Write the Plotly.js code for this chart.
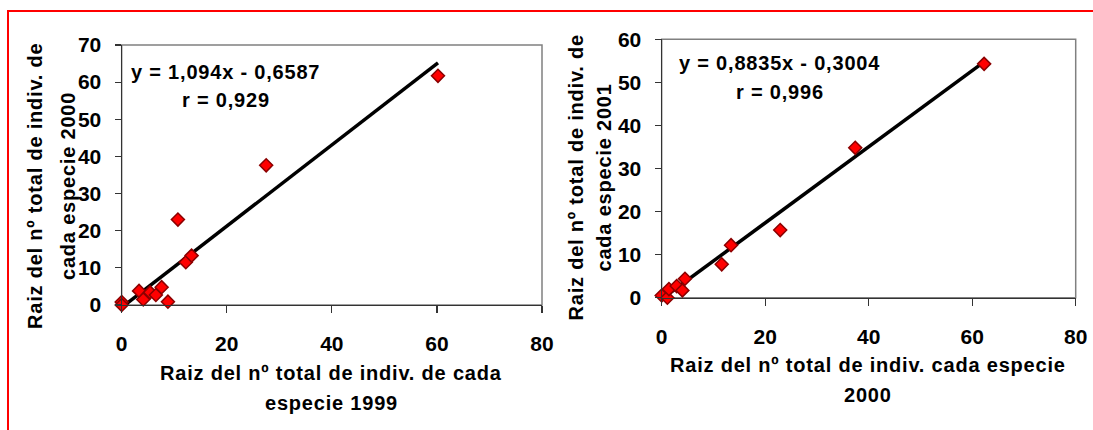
<!DOCTYPE html>
<html>
<head>
<meta charset="utf-8">
<script src="https://cdn.plot.ly/plotly-3.0.1.min.js"></script>
<style>
  html, body { margin: 0; padding: 0; background: #fff; }
  #chart { width: 1093px; height: 430px; }
  .annotation-text { letter-spacing: 0.8px; }
</style>
</head>
<body>
<div id="chart"></div>
<script>
// ---- Data ----
// Left chart: sqrt of total individuals per species, 1999 vs 2000
const x1999 = [0, 0, 3.3, 4.1, 5.4, 6.5, 7.6, 8.8, 10.7, 12.2, 13.3, 27.5, 60.2];
const y2000 = [0.8, 0, 3.8, 1.5, 3.4, 2.7, 4.8, 0.9, 23.0, 11.5, 13.3, 37.6, 61.7];
const leftSlope = 1.094, leftIntercept = -0.6587;
const leftEqText = "y = 1,094x - 0,6587";
const leftRText = "r = 0,929";

// Right chart: 2000 vs 2001
const x2000 = [0, 1.1, 1.4, 2.9, 4.0, 4.5, 11.6, 13.4, 22.9, 37.4, 62.3];
const y2001 = [0.5, 0, 2.0, 2.7, 1.7, 4.4, 7.75, 12.2, 15.7, 34.8, 54.3];
const rightSlope = 0.8835, rightIntercept = -0.3004;
const rightEqText = "y = 0,8835x - 0,3004";
const rightRText = "r = 0,996";

// Axis ticks
const xTicks = [0, 20, 40, 60, 80];
const yTicksLeft = [0, 10, 20, 30, 40, 50, 60, 70];
const yTicksRight = [0, 10, 20, 30, 40, 50, 60];

// Titles
const leftXTitle = ["Raiz del nº total de indiv. de cada", "especie 1999"];
const leftYTitle = ["Raiz del nº total de indiv. de", "cada especie 2000"];
const rightXTitle = ["Raiz del nº total de indiv. cada especie", "2000"];
const rightYTitle = ["Raiz del nº total de indiv. de", "cada especie 2001"];

// ---- Layout helpers ----
const W = 1093, H = 430;
const px = v => v / W;
const py = v => 1 - v / H;
const FONT = {family: "Liberation Sans, Arial, sans-serif", size: 20, color: "#000", weight: "bold"};
const TICKFONT = {family: "Liberation Sans, Arial, sans-serif", size: 21, color: "#000", weight: "bold"};

function trend(xs, m, b) {
  const lo = Math.min(...xs), hi = Math.max(...xs);
  return {x: [lo, hi], y: [m * lo + b, m * hi + b]};
}
const tl = trend(x1999, leftSlope, leftIntercept);
const tr = trend(x2000, rightSlope, rightIntercept);

const markerStyle = {symbol: "diamond", size: 10, color: "#FF0000", line: {color: "#8B0000", width: 1.5}};

const data = [
  {x: tl.x, y: tl.y, xaxis: "x", yaxis: "y", mode: "lines", line: {color: "#000", width: 3.5}, hoverinfo: "skip", cliponaxis: false},
  {x: x1999, y: y2000, xaxis: "x", yaxis: "y", mode: "markers", marker: markerStyle, cliponaxis: false},
  {x: tr.x, y: tr.y, xaxis: "x2", yaxis: "y2", mode: "lines", line: {color: "#000", width: 3.5}, hoverinfo: "skip", cliponaxis: false},
  {x: x2000, y: y2001, xaxis: "x2", yaxis: "y2", mode: "markers", marker: markerStyle, cliponaxis: false}
];

function xAxis(domain, anchor) {
  return {
    domain: domain, anchor: anchor, range: [0, 80], tickvals: xTicks, ticktext: xTicks.map(String),
    showgrid: false, zeroline: false, showline: true, linecolor: "#333", linewidth: 1.2,
    ticks: "outside", ticklen: 7, tickcolor: "#333", tickwidth: 1.2,
    tickfont: TICKFONT, ticklabelstandoff: 13, fixedrange: true
  };
}
function yAxis(domain, anchor, range, ticks) {
  return {
    domain: domain, anchor: anchor, range: range, tickvals: ticks, ticktext: ticks.map(String),
    showgrid: false, zeroline: false, showline: true, linecolor: "#333", linewidth: 1.2,
    ticks: "outside", ticklen: 6, tickcolor: "#333", tickwidth: 1.2,
    tickfont: TICKFONT, ticklabelstandoff: 9, fixedrange: true
  };
}

function ann(text, x, y, angle) {
  return {text: text, x: px(x), y: py(y), xref: "paper", yref: "paper", showarrow: false,
          xanchor: "center", yanchor: "middle", textangle: angle || 0, font: FONT};
}

const layout = {
  width: W, height: H, margin: {l: 0, r: 0, t: 0, b: 0},
  paper_bgcolor: "#fff", plot_bgcolor: "#fff", showlegend: false, hovermode: false,
  xaxis: xAxis([px(121.7), px(542)], "y"),
  yaxis: yAxis([py(305), py(45)], "x", [0, 70], yTicksLeft),
  xaxis2: xAxis([px(661.7), px(1075.7)], "y2"),
  yaxis2: yAxis([py(297.7), py(39.3)], "x2", [0, 60], yTicksRight),
  shapes: [
    {type: "rect", xref: "x domain", yref: "y domain", x0: 0, x1: 1, y0: 0, y1: 1, line: {color: "#808080", width: 1.5}, layer: "below"},
    {type: "rect", xref: "x2 domain", yref: "y2 domain", x0: 0, x1: 1, y0: 0, y1: 1, line: {color: "#808080", width: 1.5}, layer: "below"},
    {type: "rect", xref: "paper", yref: "paper", x0: px(8), x1: px(1110), y0: py(11), y1: py(450), line: {color: "#FF0000", width: 2}, layer: "above"}
  ],
  annotations: [
    ann(leftEqText, 225, 71.7), ann(leftRText, 226, 100),
    ann(rightEqText, 779.5, 63), ann(rightRText, 780, 92),
    ann(leftXTitle[0], 331, 373), ann(leftXTitle[1], 331, 403),
    ann(rightXTitle[0], 868, 365), ann(rightXTitle[1], 868, 395),
    ann(leftYTitle[0], 35, 186, -90), ann(leftYTitle[1], 68, 186, -90),
    ann(rightYTitle[0], 575, 177.5, -90), ann(rightYTitle[1], 603, 177.5, -90)
  ]
};

Plotly.newPlot("chart", data, layout, {displayModeBar: false, staticPlot: true});
</script>
</body>
</html>
